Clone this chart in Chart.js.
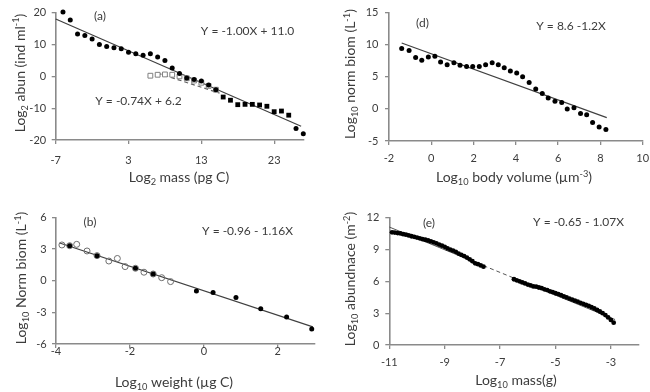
<!DOCTYPE html>
<html>
<head>
<meta charset="utf-8">
<script src="https://cdn.jsdelivr.net/npm/chart.js@4.4.0/dist/chart.umd.min.js"></script>
<style>
  body { margin: 0; background: #fff; }
  #wrap { position: relative; width: 650px; height: 392px; overflow: hidden; }
  canvas { position: absolute; }
</style>
</head>
<body>
<div id="wrap">
  <canvas id="panelA" width="325" height="196" style="left:0;top:0"></canvas>
  <canvas id="panelD" width="325" height="196" style="left:325px;top:0"></canvas>
  <canvas id="panelB" width="325" height="196" style="left:0;top:196px"></canvas>
  <canvas id="panelE" width="325" height="196" style="left:325px;top:196px"></canvas>
</div>
<script>
var textColor = "#3c3c3c";
var axisColor = "#8a8a8a";
var lineColor = "#404040";

// (a) log2 abundance vs log2 mass
var massA = [-6, -5, -4, -3, -2, -1, 0, 1, 2, 3, 4, 5, 6, 7, 8, 9, 10, 11, 12, 13, 14, 15, 26, 27];
var abunA = [20.2, 17.7, 13.3, 12.8, 11.7, 10.0, 9.4, 9.0, 8.7, 7.6, 7.1, 6.6, 7.1, 6.1, 5.0, 2.6, 0.9, -0.5, -1.0, -1.5, -2.7, -4.2, -16.4, -18.0];
var massSqA = [16, 17, 18, 19, 20, 21, 22, 23, 24, 25];
var abunSqA = [-6.5, -7.5, -8.9, -8.8, -8.8, -9.0, -9.4, -11.1, -10.9, -12.2];
var massOpenA = [6, 7, 8, 9, 10, 11, 12, 13, 14, 15];
var abunOpenA = [0.2, 0.5, 0.6, 0.5, 0.0, -0.6, -1.3, -2.0, -3.0, -4.2];
var fitA = [-1.00, 11.0];
var fitRangeA = [-7, 26.7];
var fitA2 = [-0.74, 6.2];
var fitRangeA2 = [7, 15.5];
var ticksAx = [-7, 3, 13, 23];
var ticksAy = [-20, -10, 0, 10, 20];

// (d) normalised biomass vs body volume
var volD = [-1.4, -1.05, -0.74, -0.45, -0.14, 0.17, 0.44, 0.75, 1.07, 1.36, 1.67, 1.96, 2.27, 2.57, 2.88, 3.17, 3.45, 3.74, 4.04, 4.32, 4.63, 4.94, 5.25, 5.53, 5.85, 6.17, 6.43, 6.75, 7.06, 7.35, 7.63, 7.94, 8.26];
var biomD = [9.4, 9.1, 8.0, 7.6, 8.1, 8.2, 7.3, 6.9, 7.2, 6.8, 6.6, 6.6, 6.6, 6.9, 7.2, 6.9, 6.4, 5.9, 5.6, 5.0, 4.1, 3.1, 2.4, 1.7, 1.2, 1.0, 0.0, 0.2, -0.7, -0.9, -2.1, -2.8, -3.2];
var fitD = [-1.2, 8.6];
var fitRangeD = [-1.4, 8.3];
var ticksDx = [-2, 0, 2, 4, 6, 8, 10];
var ticksDy = [-5, 0, 5, 10, 15];

// (b) normalised biomass vs weight
var weightOpenB = [-3.84, -3.63, -3.44, -3.16, -2.89, -2.57, -2.34, -2.13, -1.85, -1.62, -1.37, -1.14, -0.90];
var biomOpenB = [3.38, 3.31, 3.44, 2.81, 2.37, 1.86, 2.1, 1.33, 1.17, 0.8, 0.63, 0.28, -0.09];
var weightB = [-3.63, -2.89, -1.85, -1.37, -0.2, 0.25, 0.87, 1.54, 2.24, 2.92];
var biomB = [3.31, 2.37, 1.17, 0.63, -0.98, -1.13, -1.6, -2.65, -3.44, -4.57];
var fitB = [-1.16, -0.96];
var fitRangeB = [-3.9, 2.95];
var ticksBx = [-4, -2, 0, 2];
var ticksBy = [-6, -3, 0, 3, 6];

// (e) abundance vs mass
var massE = [-10.9, -10.8, -10.7, -10.6, -10.5, -10.4, -10.3, -10.2, -10.1, -10.0, -9.9, -9.8, -9.7, -9.6, -9.5, -9.4, -9.3, -9.2, -9.1, -9.0, -8.9, -8.8, -8.7, -8.6, -8.5, -8.4, -8.3, -8.2, -8.1, -8.0, -7.9, -7.8, -7.7, -7.6,
  -6.5, -6.4, -6.3, -6.2, -6.1, -6.0, -5.9, -5.8, -5.7, -5.6, -5.5, -5.4, -5.3, -5.2, -5.1, -5.0, -4.9, -4.8, -4.7, -4.6, -4.5, -4.4, -4.3, -4.2, -4.1, -4.0, -3.9, -3.8, -3.7, -3.6, -3.5, -3.4, -3.3, -3.2, -3.1, -3.0, -2.9];
var abunE = [10.62, 10.6, 10.55, 10.52, 10.45, 10.4, 10.33, 10.25, 10.2, 10.13, 10.06, 9.98, 9.92, 9.85, 9.76, 9.68, 9.58, 9.47, 9.36, 9.25, 9.1, 9.0, 8.9, 8.78, 8.62, 8.5, 8.38, 8.24, 8.08, 7.9, 7.7, 7.62, 7.5, 7.38,
  6.2, 6.1, 6.0, 5.9, 5.8, 5.7, 5.62, 5.52, 5.5, 5.42, 5.36, 5.25, 5.18, 5.06, 4.98, 4.88, 4.8, 4.7, 4.58, 4.48, 4.38, 4.28, 4.18, 4.08, 3.98, 3.88, 3.78, 3.68, 3.56, 3.44, 3.3, 3.16, 3.0, 2.82, 2.6, 2.36, 2.1];
var fitE = [-1.07, -0.65];
var fitRangeE = [-11, -7.6, -6.5, -2.85];
var ticksEx = [-11, -9, -7, -5, -3];
var ticksEy = [0, 3, 6, 9, 12];

function pts(xs, ys) {
  return xs.map(function(x, i) { return {x: x, y: ys[i]}; });
}

function fitLine(coef, range) {
  return range.map(function(x) { return {x: x, y: coef[1] + coef[0] * x}; });
}

// text with _{sub} and ^{sup} pieces, centred on the current origin
function drawRich(ctx, text, size) {
  var parts = text.split(/(_\{[^}]*\}|\^\{[^}]*\})/).filter(Boolean).map(function(p) {
    if (p[0] === "_") return {t: p.slice(2, -1), k: "sub"};
    if (p[0] === "^") return {t: p.slice(2, -1), k: "sup"};
    return {t: p, k: ""};
  });
  var small = size * 0.66;
  var total = 0;
  ctx.textBaseline = "alphabetic";
  ctx.textAlign = "left";
  ctx.fillStyle = textColor;
  parts.forEach(function(p) {
    ctx.font = (p.k ? small : size) + "px Lato";
    p.w = ctx.measureText(p.t).width;
    total += p.w;
  });
  var x = -total / 2;
  parts.forEach(function(p) {
    ctx.font = (p.k ? small : size) + "px Lato";
    var dy = p.k === "sub" ? size * 0.22 : (p.k === "sup" ? -size * 0.38 : 0);
    ctx.fillText(p.t, x, dy);
    x += p.w;
  });
}

var richText = {
  id: "richText",
  afterDraw: function(chart, args, opts) {
    var ctx = chart.ctx;
    (opts.items || []).forEach(function(it) {
      ctx.save();
      ctx.translate(it.x, it.y);
      if (it.rotate) ctx.rotate(-Math.PI / 2);
      drawRich(ctx, it.text, it.size);
      ctx.restore();
    });
  }
};

function axis(tickVals, min, max, horizontal, fitSize, pad) {
  return {
    type: "linear",
    min: min,
    max: max,
    afterBuildTicks: function(s) {
      s.ticks = tickVals.map(function(v) { return {value: v}; });
    },
    afterFit: function(s) {
      if (horizontal) {
        s.height = fitSize;
        s.paddingLeft = 0;
        s.paddingRight = 0;
      } else {
        s.width = fitSize;
        s.paddingTop = 0;
        s.paddingBottom = 0;
      }
    },
    grid: {drawOnChartArea: false, tickLength: 4, color: axisColor, lineWidth: 1.3},
    border: {color: axisColor, width: 1.6},
    ticks: {padding: pad, color: textColor, font: {family: "Lato", size: 11}, autoSkip: false, maxRotation: 0}
  };
}

function dots(data, extra) {
  var d = {
    data: data,
    pointRadius: 2.5,
    pointBackgroundColor: "#000",
    pointBorderColor: "#000",
    pointBorderWidth: 0,
    showLine: false,
    clip: false
  };
  for (var k in extra) d[k] = extra[k];
  return d;
}

function fit(data, extra) {
  var d = {
    data: data,
    showLine: true,
    pointRadius: 0,
    borderColor: lineColor,
    borderWidth: 1.2,
    clip: false
  };
  for (var k in extra) d[k] = extra[k];
  return d;
}

function panel(id, datasets, scales, padding, items) {
  new Chart(document.getElementById(id), {
    type: "scatter",
    data: {datasets: datasets},
    options: {
      responsive: false,
      animation: false,
      events: [],
      layout: {padding: padding},
      scales: scales,
      plugins: {
        legend: {display: false},
        tooltip: {enabled: false},
        richText: {items: items}
      }
    },
    plugins: [richText]
  });
}

panel("panelA", [
  dots(pts(massA, abunA)),
  dots(pts(massSqA, abunSqA), {pointStyle: "rect", pointRadius: 3.4}),
  dots(pts(massOpenA, abunOpenA), {pointStyle: "rect", pointRadius: 3.4, pointBackgroundColor: "#fff", pointBorderColor: "#808080", pointBorderWidth: 1}),
  fit(fitLine(fitA, fitRangeA)),
  fit(fitLine(fitA2, fitRangeA2), {borderDash: [4, 3], borderColor: "#606060"})
], {
  x: axis(ticksAx, -7, 27, true, 56, 9.4),
  y: axis(ticksAy, -20, 20, false, 55.7, 5.5)
}, {top: 12.7, right: 21.7, left: 0, bottom: 0}, [
  {text: "(a)", x: 100, y: 19.5, size: 12},
  {text: "Y = -1.00X + 11.0", x: 247.5, y: 34.5, size: 12},
  {text: "Y = -0.74X + 6.2", x: 138.5, y: 104.5, size: 12},
  {text: "Log_{2} mass (pg C)", x: 179, y: 182, size: 14},
  {text: "Log_{2} abun (ind ml^{-1})", x: 24.5, y: 73, size: 14, rotate: true}
]);

panel("panelD", [
  dots(pts(volD, biomD)),
  fit(fitLine(fitD, fitRangeD))
], {
  x: axis(ticksDx, -2, 10, true, 55, 7.1),
  y: axis(ticksDy, -5, 15, false, 64, 6.5)
}, {top: 12.7, right: 7.3, left: 0, bottom: 0}, [
  {text: "(d)", x: 97.5, y: 27, size: 12},
  {text: "Y = 8.6 -1.2X", x: 246, y: 30, size: 12},
  {text: "Log_{10} body volume (\u00b5m^{-3})", x: 189, y: 182, size: 14},
  {text: "Log_{10} norm biom (L^{-1})", x: 30, y: 74, size: 14, rotate: true}
]);

panel("panelB", [
  dots(pts(weightB, biomB)),
  dots(pts(weightOpenB, biomOpenB), {pointRadius: 3, pointBackgroundColor: "rgba(255,255,255,0)", pointBorderColor: "#6e6e6e", pointBorderWidth: 1}),
  fit(fitLine(fitB, fitRangeB))
], {
  x: axis(ticksBx, -4, 3, true, 48, -2.9),
  y: axis(ticksBy, -6, 6, false, 56, 5.3)
}, {top: 21.3, right: 10.3, left: 0, bottom: 0}, [
  {text: "(b)", x: 90, y: 30, size: 12},
  {text: "Y = -0.96 - 1.16X", x: 247.5, y: 39, size: 12},
  {text: "Log_{10} weight (\u00b5g C)", x: 174, y: 191, size: 14},
  {text: "Log_{10} Norm biom (L^{-1})", x: 26, y: 82, size: 14, rotate: true}
]);

panel("panelE", [
  dots(pts(massE, abunE), {pointRadius: 2.4}),
  fit(fitLine(fitE, fitRangeE), {
    borderWidth: 1,
    borderColor: "#555",
    segment: {borderDash: function(ctx) { return ctx.p0DataIndex === 1 ? [4, 3] : undefined; }}
  })
], {
  x: axis(ticksEx, -11, -2, true, 47, 6.9),
  y: axis(ticksEy, 0, 12, false, 64.3, 6)
}, {top: 21.7, right: 11.4, left: 0, bottom: 0}, [
  {text: "(e)", x: 104, y: 30.5, size: 12},
  {text: "Y = -0.65 - 1.07X", x: 253.5, y: 30, size: 12},
  {text: "Log_{10} mass(g)", x: 191, y: 189, size: 14},
  {text: "Log_{10} abundnace (m^{-2})", x: 30, y: 83, size: 14, rotate: true}
]);
</script>
</body>
</html>
